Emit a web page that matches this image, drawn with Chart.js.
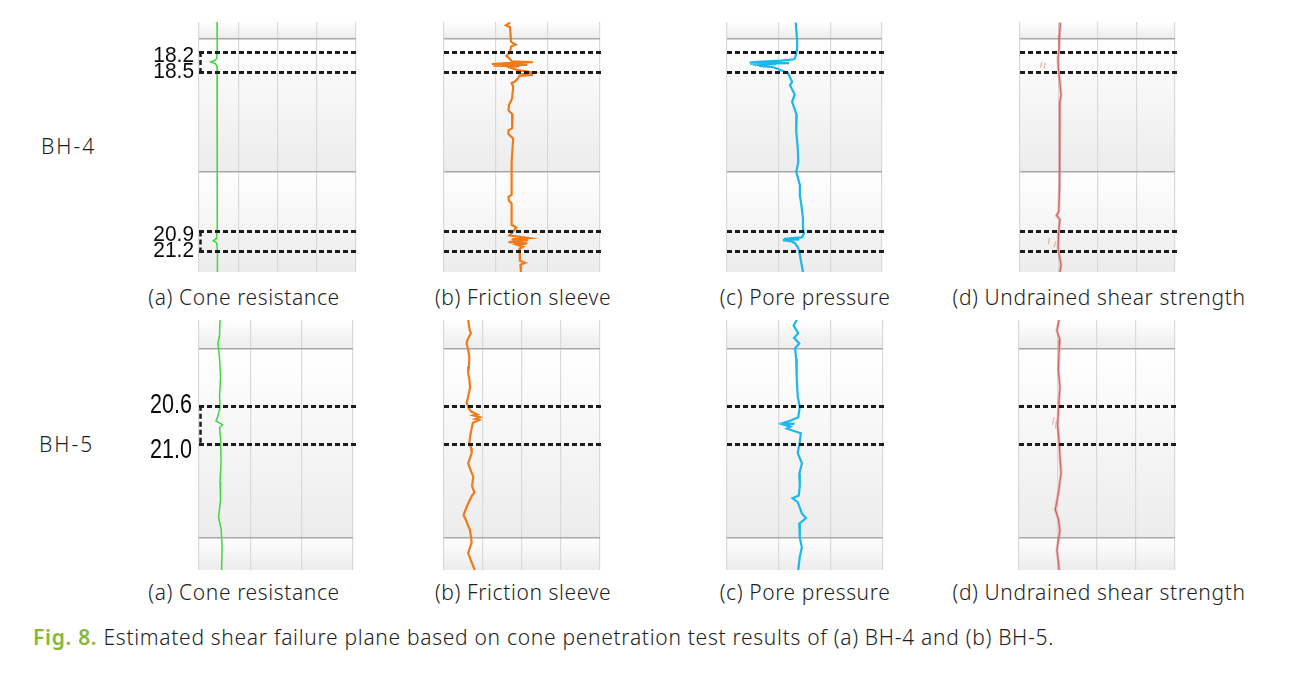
<!DOCTYPE html>
<html>
<head>
<meta charset="utf-8">
<script src="https://cdn.jsdelivr.net/npm/chart.js@4.4.0/dist/chart.umd.min.js"></script>
<style>
  body { margin: 0; background: #fff; width: 1295px; height: 676px; position: relative; overflow: hidden;
         font-family: "Noto Sans", "Noto Sans CJK KR", sans-serif; }
  canvas { position: absolute; }
  .t { position: absolute; font-size: 21px; line-height: 24px; color: #1e1e1e; white-space: nowrap; font-weight: 300; letter-spacing: 0.6px; }
  .sub { width: 400px; text-align: center; }
  .fig { color: #84b83a; font-weight: 600; }
</style>
</head>
<body>

<canvas id="bh4a"></canvas><canvas id="bh4b"></canvas><canvas id="bh4c"></canvas><canvas id="bh4d"></canvas>
<canvas id="bh5a"></canvas><canvas id="bh5b"></canvas><canvas id="bh5c"></canvas><canvas id="bh5d"></canvas>

<div class="t" style="left:41px;top:134px;letter-spacing:2px">BH-4</div>
<div class="t" style="left:39px;top:432px;letter-spacing:2px">BH-5</div>

<div class="t sub" style="left:44px;top:285px">(a) Cone resistance</div>
<div class="t sub" style="left:323px;top:285px">(b) Friction sleeve</div>
<div class="t sub" style="left:605px;top:285px">(c) Pore pressure</div>
<div class="t sub" style="left:899px;top:285px">(d) Undrained shear strength</div>

<div class="t sub" style="left:44px;top:580px">(a) Cone resistance</div>
<div class="t sub" style="left:323px;top:580px">(b) Friction sleeve</div>
<div class="t sub" style="left:605px;top:580px">(c) Pore pressure</div>
<div class="t sub" style="left:899px;top:580px">(d) Undrained shear strength</div>

<div class="t" style="left:33px;top:625px;letter-spacing:0.7px"><span class="fig">Fig. 8.</span> Estimated shear failure plane based on cone penetration test results of (a) BH-4 and (b) BH-5.</div>

<script>
// depth ranges (m), grid depths and estimated failure planes
const bh4Range = [17.75, 21.51];
const bh4Grid = [18, 20];
const bh4Failure = [18.2, 18.5, 20.9, 21.2];
const bh5Range = [19.69, 22.34];
const bh5Grid = [20, 22];
const bh5Failure = [20.6, 21.0];

// values are in grid divisions of each panel (no tick labels in the figure)
// BH-4
const bh4ConeDepth = [17.75, 17.95, 18.1, 18.2, 18.3, 18.33, 18.35, 18.38, 18.42, 18.5, 18.8, 19.1, 19.5, 19.8, 20.1, 20.5, 20.9, 21.01, 21.04, 21.07, 21.2, 21.51];
const bh4ConeValue = [0.46, 0.46, 0.47, 0.46, 0.45, 0.40, 0.30, 0.42, 0.46, 0.47, 0.46, 0.47, 0.46, 0.47, 0.46, 0.47, 0.46, 0.44, 0.36, 0.45, 0.47, 0.47];

const bh4SleeveDepth = [17.76, 17.8, 17.83, 18.05, 18.09, 18.12, 18.2, 18.26, 18.3, 18.34, 18.355, 18.37, 18.385, 18.395, 18.405, 18.415, 18.43, 18.47, 18.51, 18.53, 18.545, 18.56, 18.6, 18.65, 18.67, 18.72, 18.9, 19.0, 19.08, 19.14, 19.35, 19.38, 19.44, 19.5, 19.86, 20.35, 20.38, 20.44, 20.48, 20.8, 20.84, 20.9, 20.96, 21.0, 21.02, 21.03, 21.06, 21.08, 21.1, 21.13, 21.16, 21.34, 21.37, 21.4, 21.51];
const bh4SleeveValue = [1.27, 1.19, 1.27, 1.29, 1.38, 1.29, 1.27, 1.20, 1.26, 1.30, 1.71, 1.20, 0.92, 1.60, 0.95, 1.45, 1.25, 1.40, 1.71, 1.55, 1.71, 1.45, 1.42, 1.36, 1.30, 1.33, 1.31, 1.25, 1.24, 1.32, 1.31, 1.24, 1.24, 1.33, 1.30, 1.30, 1.24, 1.25, 1.30, 1.30, 1.39, 1.33, 1.26, 1.63, 1.30, 1.62, 1.24, 1.60, 1.40, 1.52, 1.45, 1.46, 1.56, 1.47, 1.48];

const bh4PoreDepth = [17.76, 17.95, 18.1, 18.2, 18.28, 18.31, 18.33, 18.35, 18.36, 18.37, 18.375, 18.385, 18.39, 18.4, 18.41, 18.43, 18.46, 18.52, 18.55, 18.65, 18.7, 18.84, 18.95, 19.15, 19.4, 19.65, 19.86, 20.0, 20.2, 20.36, 20.45, 20.7, 20.85, 20.93, 20.99, 21.01, 21.02, 21.03, 21.05, 21.08, 21.15, 21.25, 21.51];
const bh4PoreValue = [1.33, 1.35, 1.36, 1.35, 1.32, 1.30, 1.05, 0.60, 0.44, 1.20, 0.45, 0.95, 0.50, 0.80, 0.62, 0.90, 1.00, 1.18, 1.20, 1.26, 1.22, 1.31, 1.26, 1.35, 1.34, 1.37, 1.38, 1.34, 1.41, 1.41, 1.43, 1.47, 1.47, 1.49, 1.45, 1.10, 1.40, 1.08, 1.25, 1.32, 1.38, 1.41, 1.47];

const bh4StrengthDepth = [17.76, 17.95, 18.15, 18.29, 18.45, 18.6, 18.85, 18.95, 19.3, 19.8, 20.2, 20.6, 20.66, 20.72, 20.9, 21.05, 21.15, 21.4, 21.51];
const bh4StrengthValue = [1.04, 1.02, 1.01, 0.98, 0.99, 1.02, 1.06, 1.03, 1.02, 1.03, 1.02, 1.00, 0.94, 1.03, 1.00, 0.99, 0.98, 1.06, 1.03];
const bh4GhostDepth = [18.35, 18.44, null, 18.36, 18.45, null, 21.0, 21.09, null, 21.05, 21.14];
const bh4GhostValue = [0.56, 0.52, null, 0.65, 0.62, null, 0.76, 0.73, null, 0.92, 0.88];

// BH-5
const bh5ConeDepth = [19.69, 19.85, 19.94, 20.1, 20.3, 20.5, 20.62, 20.72, 20.76, 20.8, 20.83, 20.95, 21.2, 21.4, 21.6, 21.78, 21.9, 22.1, 22.34];
const bh5ConeValue = [0.41, 0.40, 0.37, 0.40, 0.42, 0.40, 0.41, 0.36, 0.33, 0.46, 0.40, 0.42, 0.43, 0.41, 0.42, 0.38, 0.43, 0.45, 0.44];

const bh5SleeveDepth = [19.69, 19.8, 19.83, 19.9, 19.94, 20.0, 20.08, 20.18, 20.25, 20.32, 20.4, 20.5, 20.57, 20.63, 20.66, 20.69, 20.7, 20.72, 20.74, 20.75, 20.78, 20.9, 20.99, 21.05, 21.1, 21.21, 21.3, 21.35, 21.45, 21.52, 21.55, 21.67, 21.76, 21.8, 21.92, 22.05, 22.16, 22.25, 22.34];
const bh5SleeveValue = [0.62, 0.66, 0.69, 0.60, 0.58, 0.62, 0.65, 0.64, 0.62, 0.65, 0.67, 0.62, 0.58, 0.64, 0.70, 0.85, 0.75, 0.92, 0.80, 0.90, 0.74, 0.68, 0.65, 0.70, 0.71, 0.62, 0.70, 0.75, 0.72, 0.78, 0.72, 0.58, 0.50, 0.55, 0.67, 0.71, 0.62, 0.70, 0.79];

const bh5PoreDepth = [19.69, 19.75, 19.83, 19.88, 19.94, 19.99, 20.1, 20.3, 20.5, 20.61, 20.72, 20.76, 20.78, 20.79, 20.8, 20.82, 20.84, 20.87, 20.89, 20.98, 21.1, 21.21, 21.32, 21.45, 21.55, 21.58, 21.62, 21.74, 21.79, 21.85, 22.0, 22.1, 22.2, 22.34];
const bh5PoreValue = [1.34, 1.28, 1.37, 1.29, 1.39, 1.31, 1.33, 1.34, 1.36, 1.40, 1.37, 1.20, 1.08, 1.30, 1.10, 1.22, 1.15, 1.30, 1.42, 1.40, 1.36, 1.44, 1.39, 1.40, 1.38, 1.26, 1.36, 1.44, 1.52, 1.39, 1.40, 1.44, 1.40, 1.37];

const bh5StrengthDepth = [19.69, 19.8, 19.9, 20.0, 20.22, 20.4, 20.65, 20.8, 20.99, 21.2, 21.31, 21.5, 21.7, 21.8, 21.92, 22.13, 22.25, 22.34];
const bh5StrengthValue = [1.03, 0.97, 1.05, 1.03, 1.01, 1.05, 1.01, 0.99, 1.03, 1.06, 1.08, 1.02, 0.93, 1.01, 1.05, 0.97, 1.01, 1.03];
const bh5GhostDepth = [20.72, 20.8, null, 20.76, 20.84];
const bh5GhostValue = [0.90, 0.86, null, 0.96, 0.93];

const toPoints = (depths, values) => depths.map((d, i) => ({ x: values[i] === null ? NaN : values[i], y: d === null ? NaN : d }));

// light shaded bands between the depth grid lines
const bandPlugin = {
  id: 'bands',
  beforeDraw(chart, args, opts) {
    const { ctx, chartArea: a, scales: { y } } = chart;
    const edges = [y.min, ...opts.grid, y.max].map(v => y.getPixelForValue(v));
    for (let i = 0; i < edges.length - 1; i++) {
      const g = ctx.createLinearGradient(0, edges[i], 0, edges[i + 1]);
      g.addColorStop(0, '#ffffff');
      g.addColorStop(1, '#ececec');
      ctx.fillStyle = g;
      ctx.fillRect(a.left, edges[i], a.right - a.left, edges[i + 1] - edges[i]);
    }
  }
};

// dashed failure planes, bracket and depth labels
const failurePlugin = {
  id: 'failure',
  afterDatasetsDraw(chart, args, opts) {
    const { ctx, chartArea: a, scales: { y } } = chart;
    ctx.save();
    ctx.setLineDash([5, 3]);
    ctx.strokeStyle = '#1c1c1c';
    ctx.lineWidth = 3;
    opts.depths.forEach(d => {
      const py = Math.round(y.getPixelForValue(d)) + 0.5;
      ctx.beginPath();
      ctx.moveTo(a.left, py);
      ctx.lineTo(a.right + 3, py);
      ctx.stroke();
    });
    if (opts.labels) {
      ctx.lineWidth = 2.5;
      for (let i = 0; i < opts.depths.length; i += 2) {
        ctx.beginPath();
        ctx.moveTo(a.left + 1.5, y.getPixelForValue(opts.depths[i]));
        ctx.lineTo(a.left + 1.5, y.getPixelForValue(opts.depths[i + 1]));
        ctx.stroke();
      }
      ctx.setLineDash([]);
      ctx.fillStyle = '#0a0a0a';
      ctx.textAlign = 'right';
      ctx.textBaseline = 'alphabetic';
      opts.depths.forEach((d, i) => {
        const cy = y.getPixelForValue(d) + (i % 2 ? opts.shift[1] : opts.shift[0]);
        ctx.save();
        ctx.translate(a.left - opts.gap, cy + opts.cap / 2);
        ctx.scale(opts.squeeze, 1);
        ctx.font = opts.font;
        ctx.fillText(d.toFixed(1), 0, 0);
        ctx.restore();
      });
    }
    ctx.restore();
  }
};

const bh4Labels = { font: '22px "Liberation Sans", Arial, sans-serif', cap: 16, squeeze: 0.95, gap: 5, shift: [2, -2] };
const bh5Labels = { font: '28px "Liberation Sans", Arial, sans-serif', cap: 20, squeeze: 0.77, gap: 7, shift: [-3, 4] };

const panels = [
  { id: 'bh4a', left: 199, top: 22, width: 157, divs: 4, range: bh4Range, grid: bh4Grid, failure: bh4Failure, labels: bh4Labels,
    depth: bh4ConeDepth, value: bh4ConeValue, color: '#3fd83f', lineWidth: 1.5 },
  { id: 'bh4b', left: 444, top: 22, width: 156, divs: 3, range: bh4Range, grid: bh4Grid, failure: bh4Failure,
    depth: bh4SleeveDepth, value: bh4SleeveValue, color: '#ef7b1a', lineWidth: 2.2 },
  { id: 'bh4c', left: 727, top: 22, width: 155, divs: 3, range: bh4Range, grid: bh4Grid, failure: bh4Failure,
    depth: bh4PoreDepth, value: bh4PoreValue, color: '#1db7ec', lineWidth: 2.2 },
  { id: 'bh4d', left: 1020, top: 22, width: 155, divs: 4, range: bh4Range, grid: bh4Grid, failure: bh4Failure,
    depth: bh4StrengthDepth, value: bh4StrengthValue, color: '#c94646', lineWidth: 1.2, ghostDepth: bh4GhostDepth, ghostValue: bh4GhostValue },
  { id: 'bh5a', left: 199, top: 320, width: 154, divs: 3, range: bh5Range, grid: bh5Grid, failure: bh5Failure, labels: bh5Labels,
    depth: bh5ConeDepth, value: bh5ConeValue, color: '#3fd83f', lineWidth: 1.5 },
  { id: 'bh5b', left: 444, top: 320, width: 156, divs: 4, range: bh5Range, grid: bh5Grid, failure: bh5Failure,
    depth: bh5SleeveDepth, value: bh5SleeveValue, color: '#ef7b1a', lineWidth: 2.2 },
  { id: 'bh5c', left: 727, top: 320, width: 156, divs: 3, range: bh5Range, grid: bh5Grid, failure: bh5Failure,
    depth: bh5PoreDepth, value: bh5PoreValue, color: '#1db7ec', lineWidth: 2.2 },
  { id: 'bh5d', left: 1019, top: 320, width: 156, divs: 4, range: bh5Range, grid: bh5Grid, failure: bh5Failure,
    depth: bh5StrengthDepth, value: bh5StrengthValue, color: '#c94646', lineWidth: 1.2, ghostDepth: bh5GhostDepth, ghostValue: bh5GhostValue }
];

const plotHeight = 250;

panels.forEach(p => {
  const padL = p.labels ? 69 : 1;
  const padR = 5, padT = 1, padB = 1;
  const canvas = document.getElementById(p.id);
  canvas.width = p.width + padL + padR;
  canvas.height = plotHeight + padT + padB;
  canvas.style.left = (p.left - padL) + 'px';
  canvas.style.top = (p.top - padT) + 'px';

  const datasets = [];
  if (p.ghostDepth) {
    // pale halo under the thin strength trace, plus the faint stray strokes
    datasets.push({
      data: toPoints(p.depth, p.value),
      showLine: true, borderColor: 'rgba(225,130,130,0.45)', borderWidth: 3,
      pointRadius: 0, tension: 0
    });
    datasets.push({
      data: toPoints(p.ghostDepth, p.ghostValue),
      showLine: true, borderColor: 'rgba(220,120,120,0.55)', borderWidth: 1.2,
      pointRadius: 0, tension: 0, spanGaps: false
    });
  }
  datasets.push({
    data: toPoints(p.depth, p.value),
    showLine: true, borderColor: p.color, borderWidth: p.lineWidth,
    pointRadius: 0, tension: 0, spanGaps: false
  });

  new Chart(canvas.getContext('2d'), {
    type: 'scatter',
    data: { datasets: datasets },
    options: {
      responsive: false,
      animation: false,
      events: [],
      layout: { padding: { left: padL, right: padR, top: padT, bottom: padB } },
      plugins: {
        legend: { display: false },
        tooltip: { enabled: false },
        bands: { grid: p.grid },
        failure: Object.assign({ depths: p.failure, labels: !!p.labels }, p.labels || {})
      },
      scales: {
        x: {
          type: 'linear', min: 0, max: p.divs,
          ticks: { display: false, stepSize: 1 },
          grid: { color: '#d9d9d9', lineWidth: 1.2, drawTicks: false },
          border: { display: false }
        },
        y: {
          type: 'linear', reverse: true, min: p.range[0], max: p.range[1],
          afterBuildTicks: axis => { axis.ticks = p.grid.map(v => ({ value: v })); },
          ticks: { display: false },
          grid: { color: '#a8a8a8', lineWidth: 1.5, drawTicks: false },
          border: { display: false }
        }
      }
    },
    plugins: [bandPlugin, failurePlugin]
  });
});
</script>
</body>
</html>
